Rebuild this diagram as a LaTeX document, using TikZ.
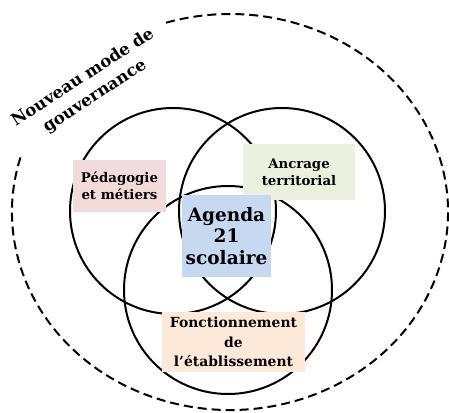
\documentclass[tikz,border=0pt]{standalone}
\usepackage{fontspec}
\setmainfont{DejaVu Serif}
\definecolor{pinkc}{HTML}{F2DCDB}
\definecolor{greenc}{HTML}{EBF1DE}
\definecolor{bluec}{HTML}{C6D9F1}
\definecolor{peachc}{HTML}{FDE9D9}
\begin{document}
\begin{tikzpicture}[x=1pt,y=1pt,
  venn/.style={circle, draw=black, line width=2pt, inner sep=0pt},
  outer/.style={draw=black, line width=2pt, dash pattern=on 9pt off 5pt},
  lblbox/.style={inner sep=0pt, align=center, text=black},
  smallfont/.style={font=\fontsize{13.3}{17}\selectfont\bfseries},
]
\useasboundingbox (0,0) rectangle (449,412);
% outer dashed ellipse arc
\coordinate (oc) at (230,200);
\draw[outer] (oc) ++(164:218 and 198) arc[start angle=164, end angle=467.9, x radius=218, y radius=198];
% circles
\node[venn, minimum size=206pt] (cA) at (173,201) {};
\node[venn, minimum size=206pt] (cB) at (282,201) {};
\node[venn, minimum size=208pt] (cC) at (228,122) {};
% boxes
\node[lblbox, smallfont, fill=pinkc, minimum width=93pt, minimum height=52pt] (ped) at (119.5,226) {Pédagogie\\et métiers};
\node[lblbox, smallfont, fill=greenc, minimum width=112pt, minimum height=56pt] (anc) at (299,240) {Ancrage\\territorial};
\node[lblbox, font=\fontsize{18.5}{21.5}\selectfont\bfseries, fill=bluec, minimum width=89pt, minimum height=82pt] (ag) at (226.5,176) {Agenda\\21\\scolaire};
\node[lblbox, font=\fontsize{13.9}{19.5}\selectfont\bfseries, fill=peachc, minimum width=143pt, minimum height=60pt] (fon) at (233.5,70) {Fonctionnement\\de\\l’établissement};
% title
\node[lblbox, rotate=33, font=\fontsize{16.6}{22}\selectfont\bfseries] (title) at (89,325) {Nouveau mode de\\gouvernance};
\end{tikzpicture}
\end{document}
